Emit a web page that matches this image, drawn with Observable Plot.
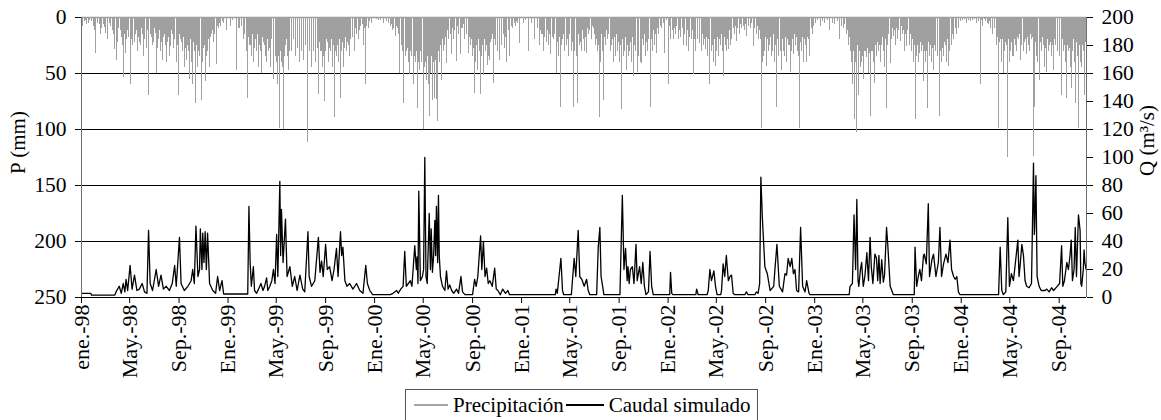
<!DOCTYPE html>
<html><head><meta charset="utf-8">
<script src="https://cdn.jsdelivr.net/npm/d3@7"></script>
<script src="https://cdn.jsdelivr.net/npm/@observablehq/plot@0.6"></script>
<style>
body{margin:0;background:#fff;font-family:"Liberation Serif","Times New Roman",serif;}
#wrap{position:relative;width:1161px;height:420px;overflow:hidden;}
#legend{position:absolute;left:405px;top:389px;height:32px;border:1px solid #555;display:flex;align-items:center;font-size:21px;padding:0 6px 0 8px;box-sizing:border-box;white-space:nowrap;color:#000}
.sw{display:inline-block;width:34px;height:0;border-top:2px solid;margin-right:5px}
</style></head><body>
<div id="wrap"><div id="chart"></div>
<div id="legend"><span class="sw" style="border-color:#a5a5a5"></span><span>Precipitación</span><span class="sw" style="border-color:#000;margin-left:2px;width:38px"></span><span>Caudal simulado</span></div>
</div>
<script>
// ---- data: [day of year, value] ----
const precip1998 = [[4,8],[8,4],[10,3],[14,6],[18,5],[21,3],[25,4],[30,8],[34,12],[37,32],[41,5],[45,6],[48,15],[52,10],[56,6],[59,9],[62,14],[66,20],[70,5],[74,8],[78,12],[81,15],[83,29],[87,38],[90,22],[93,10],[97,12],[100,18],[103,25],[105,54],[108,15],[110,32],[113,20],[115,12],[119,18],[122,60],[124,10],[126,20],[129,25],[132,22],[135,15],[138,12],[140,30],[143,18],[145,22],[148,25],[150,10],[153,15],[155,35],[158,20],[162,28],[165,12],[168,70],[172,15],[175,18],[178,25],[181,22],[183,10],[185,14],[187,50],[190,28],[192,20],[195,12],[197,30],[200,22],[203,38],[206,18],[208,15],[210,25],[212,40],[214,10],[216,22],[218,18],[220,35],[223,26],[225,12],[228,15],[230,28],[233,20],[237,40],[240,25],[242,70],[245,15],[247,20],[250,22],[252,30],[255,18],[257,45],[260,28],[262,38],[264,15],[266,25],[268,30],[270,55],[272,20],[274,40],[276,35],[278,60],[280,22],[282,30],[284,40],[286,77],[288,25],[290,45],[292,30],[294,35],[296,20],[299,74],[301,35],[303,40],[305,28],[307,25],[309,20],[310,57],[312,35],[314,30],[316,25],[318,20],[320,45],[322,18],[325,15],[328,12],[330,22],[333,15],[336,42],[339,8],[342,10],[345,5],[348,8],[352,4],[355,5],[362,12]];
const precip1999 = [[6,8],[12,3],[22,47],[26,10],[30,10],[35,8],[40,20],[43,15],[46,30],[48,20],[50,72],[52,18],[55,25],[57,25],[60,35],[62,15],[64,40],[66,28],[68,18],[70,20],[72,30],[74,15],[76,45],[78,22],[80,25],[82,30],[85,50],[87,18],[90,22],[92,25],[95,35],[97,40],[99,20],[102,30],[104,28],[106,45],[108,15],[110,20],[113,55],[115,30],[118,35],[120,22],[122,40],[125,60],[127,35],[128,99],[130,25],[132,30],[134,40],[136,45],[138,28],[140,100],[142,35],[144,25],[146,20],[148,35],[150,25],[151,47],[153,30],[155,20],[158,22],[160,30],[163,20],[165,15],[168,25],[170,35],[173,18],[175,28],[178,22],[180,40],[183,30],[185,20],[188,15],[190,38],[193,20],[195,25],[198,28],[200,112],[203,22],[205,30],[208,25],[210,45],[213,30],[215,25],[218,20],[220,40],[223,28],[226,69],[228,22],[230,30],[233,30],[235,45],[238,35],[240,25],[242,75],[244,30],[246,20],[248,22],[250,40],[253,28],[255,30],[258,20],[260,45],[262,35],[263,25],[265,22],[267,89],[269,30],[271,35],[273,25],[275,40],[278,20],[280,72],[282,30],[284,30],[286,22],[288,45],[290,28],[292,20],[294,18],[296,30],[298,22],[300,25],[302,15],[304,35],[307,20],[310,15],[312,18],[315,30],[318,10],[320,12],[322,15],[325,20],[328,12],[332,8],[335,6],[338,25],[341,10],[344,60],[347,8],[350,10],[354,4],[358,5]];
const precip2000 = [[5,2],[10,3],[15,3],[23,5],[30,4],[35,5],[40,8],[43,6],[46,12],[49,10],[52,17],[55,8],[58,10],[61,15],[64,50],[67,25],[69,20],[71,30],[74,77],[77,35],[80,30],[83,28],[85,40],[87,51],[90,30],[92,35],[94,25],[97,60],[100,35],[102,40],[105,30],[108,81],[110,40],[112,47],[114,35],[116,30],[118,30],[119,40],[122,100],[124,38],[126,45],[128,40],[130,56],[132,35],[134,60],[135,30],[137,88],[139,42],[141,50],[143,35],[145,74],[147,40],[150,72],[152,38],[154,73],[156,35],[158,93],[160,30],[162,40],[165,25],[168,56],[170,20],[172,30],[174,15],[176,25],[178,18],[180,41],[183,12],[186,20],[189,15],[193,33],[195,10],[198,20],[201,12],[205,39],[208,8],[210,15],[214,33],[217,10],[220,10],[223,6],[226,20],[230,15],[234,32],[237,18],[240,25],[242,20],[245,35],[247,28],[249,68],[251,22],[253,40],[255,25],[257,47],[259,20],[261,30],[263,30],[265,69],[268,35],[270,25],[272,52],[274,20],[276,30],[279,25],[282,43],[285,35],[288,38],[290,22],[292,20],[295,15],[298,59],[300,20],[303,25],[306,15],[308,30],[311,18],[313,38],[316,20],[318,25],[321,15],[324,28],[327,18],[330,40],[334,12],[338,35],[341,8],[345,10],[349,5],[352,8],[355,4],[358,5],[361,6],[363,23]];
const precip2001 = [[5,5],[10,3],[19,30],[25,5],[34,20],[40,10],[45,25],[48,12],[50,15],[53,15],[55,30],[58,18],[62,22],[65,12],[68,25],[71,15],[74,33],[77,18],[80,20],[84,15],[87,50],[90,22],[92,35],[95,18],[97,80],[100,25],[102,20],[105,15],[108,30],[112,25],[115,20],[118,35],[121,15],[125,30],[128,22],[130,80],[132,18],[134,30],[137,35],[139,20],[141,77],[143,15],[145,25],[148,22],[151,30],[153,12],[155,20],[158,30],[160,18],[163,32],[165,10],[168,15],[171,12],[175,20],[177,8],[180,10],[183,15],[186,25],[188,20],[190,30],[192,25],[194,89],[196,22],[198,40],[200,15],[202,30],[205,74],[207,18],[210,25],[212,12],[215,20],[218,15],[222,30],[224,12],[226,25],[228,20],[230,40],[233,18],[235,35],[237,15],[240,30],[243,22],[245,40],[248,25],[251,82],[253,20],[255,35],[256,28],[258,30],[260,18],[263,47],[265,25],[267,35],[269,20],[271,30],[273,22],[275,40],[277,18],[279,53],[282,25],[284,30],[286,20],[289,49],[291,25],[293,35],[296,40],[298,28],[300,41],[303,20],[305,25],[308,15],[310,35],[312,22],[314,30],[316,18],[318,20],[321,15],[323,80],[325,20],[327,30],[329,12],[331,25],[334,15],[337,32],[340,10],[342,15],[346,8],[350,10],[354,5],[358,32],[362,3]];
const precip2002 = [[1,10],[3,60],[5,8],[8,20],[11,12],[14,20],[17,10],[20,15],[23,8],[26,20],[29,12],[33,18],[36,10],[40,25],[43,15],[47,26],[50,12],[52,30],[55,18],[58,20],[61,12],[65,51],[67,20],[70,30],[73,15],[75,20],[78,12],[80,23],[83,18],[85,30],[87,15],[89,25],[91,20],[93,29],[96,18],[98,35],[101,20],[103,22],[105,60],[108,18],[110,30],[112,25],[114,40],[116,20],[118,44],[120,22],[122,30],[125,18],[127,35],[130,20],[132,25],[134,15],[136,30],[139,53],[141,18],[143,25],[145,15],[147,30],[149,20],[151,29],[154,12],[156,25],[158,15],[160,20],[163,10],[166,15],[169,8],[172,21],[175,10],[178,15],[181,6],[185,10],[188,8],[190,12],[194,6],[197,17],[201,8],[205,10],[209,5],[213,26],[216,10],[220,15],[223,8],[225,20],[228,12],[231,20],[233,99],[236,40],[239,35],[240,22],[242,30],[244,18],[246,44],[248,20],[250,30],[252,15],[254,25],[256,18],[258,35],[260,20],[262,30],[264,15],[266,40],[268,25],[270,80],[273,20],[275,35],[277,22],[280,30],[282,18],[284,47],[286,20],[288,30],[290,22],[292,35],[294,18],[296,40],[298,20],[300,25],[303,25],[305,49],[307,18],[309,30],[311,20],[313,33],[316,15],[318,25],[320,18],[322,30],[324,20],[326,35],[329,99],[331,22],[333,30],[336,18],[338,40],[340,20],[342,25],[344,15],[346,40],[348,18],[350,20],[352,12],[354,35],[357,10],[360,15],[363,8]];
const precip2003 = [[2,5],[8,3],[15,8],[20,4],[25,5],[32,3],[39,12],[45,5],[50,6],[57,4],[64,20],[68,8],[72,10],[76,6],[80,15],[83,12],[85,25],[87,18],[89,30],[91,22],[93,40],[95,25],[96,60],[98,30],[99,91],[101,28],[102,40],[104,35],[106,103],[108,25],[109,30],[111,70],[113,30],[115,45],[117,28],[118,40],[120,35],[122,55],[124,25],[126,30],[128,30],[131,36],[133,28],[135,50],[137,32],[139,88],[141,25],[143,30],[145,30],[147,40],[149,28],[151,59],[153,25],[155,35],[158,22],[160,30],[162,25],[164,40],[166,20],[168,25],[170,18],[172,30],[174,22],[176,45],[178,20],[179,81],[181,18],[183,25],[186,15],[189,41],[191,12],[193,20],[195,10],[197,17],[200,12],[203,25],[206,10],[208,20],[211,12],[214,21],[217,8],[220,15],[222,12],[225,30],[228,15],[230,26],[233,12],[236,25],[239,15],[242,30],[245,20],[247,40],[249,25],[251,91],[253,28],[255,35],[257,25],[259,40],[261,20],[263,32],[265,22],[267,30],[270,25],[272,57],[274,30],[276,40],[278,25],[280,30],[282,28],[283,81],[285,22],[287,35],[289,25],[292,40],[294,28],[297,47],[299,25],[301,30],[303,22],[306,35],[308,25],[311,88],[313,20],[315,30],[317,25],[318,40],[320,28],[322,35],[324,22],[326,25],[328,25],[330,40],[332,20],[334,44],[336,22],[338,30],[341,18],[343,25],[345,15],[348,20],[351,10],[355,15],[358,6],[360,10],[363,4]];
const precip2004 = [[5,3],[10,2],[15,5],[20,3],[25,4],[30,3],[35,2],[40,5],[45,4],[48,60],[52,3],[55,8],[58,2],[62,4],[66,5],[70,6],[72,4],[75,10],[78,8],[80,15],[83,10],[85,8],[88,15],[90,25],[92,18],[95,99],[97,22],[99,20],[101,25],[102,40],[104,20],[106,50],[108,28],[110,30],[112,22],[114,25],[116,25],[117,125],[119,20],[120,40],[122,25],[124,30],[126,22],[128,35],[130,28],[131,35],[133,20],[135,25],[137,22],[139,30],[141,18],[143,20],[145,15],[148,38],[150,20],[152,25],[155,18],[157,30],[159,22],[160,20],[162,15],[164,33],[166,18],[168,25],[170,20],[172,30],[174,15],[176,20],[178,18],[181,124],[183,25],[184,80],[186,22],[188,35],[190,20],[192,40],[195,25],[197,56],[199,22],[201,30],[203,18],[205,25],[207,25],[209,45],[211,28],[214,49],[216,20],[218,30],[220,18],[222,25],[224,22],[226,35],[228,25],[231,47],[233,20],[235,25],[237,18],[240,30],[242,22],[245,35],[247,25],[251,70],[253,20],[255,30],[257,25],[260,40],[262,22],[264,72],[266,25],[268,30],[270,28],[272,45],[274,22],[275,63],[277,25],[279,30],[281,20],[283,40],[285,25],[286,77],[288,22],[290,35],[292,28],[293,99],[295,25],[297,40],[299,30],[301,45],[303,25],[305,30],[307,28],[309,70],[310,22],[312,20]];

const flow1998 = [[1,3],[24,3],[26,1.7],[84,1.7],[87,4],[95,8],[100,3],[105,10],[109,4],[112,13],[116,5],[122,23],[127,6],[133,16],[139,5],[145,6],[152,10],[158,4],[164,3],[168,48],[172,10],[178,5],[187,20],[193,8],[199,16],[205,6],[212,8],[220,5],[227,10],[233,23],[237,8],[245,43],[249,10],[257,5],[266,8],[274,12],[278,20],[282,10],[286,51],[291,15],[295,20],[297,49],[301,20],[303,46],[306,25],[309,47],[312,20],[315,46],[320,10],[328,5],[335,3],[340,15],[345,5],[351,12],[355,2.5],[365,2.5]];
const flow1999 = [[1,2.5],[50,2.5],[53,65],[56,25],[59,8],[64,22],[67,5],[72,3],[77,6],[83,10],[88,5],[92,8],[97,14],[100,5],[105,8],[110,12],[114,20],[118,10],[122,45],[125,15],[130,83],[132,30],[134,63],[138,25],[144,56],[148,15],[155,22],[161,8],[167,15],[173,5],[180,16],[187,6],[192,4],[200,47],[203,15],[209,8],[217,12],[226,43],[230,18],[234,26],[238,15],[244,38],[248,20],[254,22],[260,12],[265,20],[271,35],[275,15],[281,47],[284,30],[287,36],[292,12],[297,8],[304,10],[312,6],[321,10],[329,5],[337,3],[344,23],[348,10],[354,5],[361,2.1],[365,2.1]];
const flow2000 = [[1,2.1],[40,2.1],[47,3],[56,5],[60,3],[66,6],[72,8],[76,33],[80,8],[85,10],[90,12],[94,8],[101,37],[105,20],[107,29],[109,10],[111,76],[115,12],[120,15],[123,20],[126,100],[129,15],[132,10],[137,60],[140,20],[142,49],[145,18],[148,30],[151,55],[153,30],[155,65],[158,25],[160,73],[162,30],[165,15],[170,8],[176,5],[180,19],[184,6],[188,9],[193,5],[198,3],[205,6],[210,3],[216,15],[220,4],[226,2],[245,2],[250,13],[254,8],[258,15],[265,44],[268,20],[272,40],[276,15],[280,21],[284,10],[288,12],[294,8],[300,21],[304,6],[308,5],[314,2],[320,6],[327,3],[333,5],[337,2],[366,2]];
const flow2001 = [[1,2],[85,2],[87,6],[90,3],[99,28],[103,5],[106,2],[125,2],[132,28],[136,15],[142,48],[146,15],[151,13],[157,8],[163,13],[167,5],[171,2],[188,2],[192,36],[196,50],[199,15],[203,8],[206,2],[246,2],[252,73],[256,20],[260,35],[264,12],[266,22],[269,10],[272,20],[277,22],[281,10],[286,38],[289,12],[295,22],[299,10],[303,25],[307,8],[311,2],[317,4],[321,33],[325,8],[329,2],[365,2]];
const flow2002 = [[1,2],[5,2],[7,18],[10,3],[13,2],[70,2],[72,6],[76,2],[98,2],[101,5],[105,20],[109,12],[115,19],[119,8],[123,2],[132,2],[134,5],[138,24],[142,15],[146,30],[151,12],[155,15],[159,16],[163,3],[167,2],[192,2],[196,4],[200,2],[217,2],[221,4],[225,3],[229,10],[232,86],[236,55],[242,22],[248,17],[255,5],[264,8],[267,20],[272,38],[278,8],[286,4],[292,17],[296,16],[300,28],[305,22],[309,28],[313,17],[317,20],[321,5],[326,4],[331,50],[336,8],[342,4],[346,12],[352,3],[354,2],[365,2]];
const flow2003 = [[1,2],[87,2],[89,8],[95,10],[99,59],[103,20],[106,70],[109,12],[111,8],[115,20],[118,25],[122,8],[126,15],[131,32],[135,12],[139,43],[142,22],[146,10],[151,31],[155,28],[158,12],[161,30],[164,10],[168,27],[172,11],[175,16],[180,50],[183,38],[189,8],[197,2],[249,2],[251,36],[255,8],[259,15],[263,20],[267,12],[272,30],[274,31],[279,24],[284,67],[287,15],[293,27],[297,31],[303,15],[309,25],[313,50],[317,15],[322,24],[328,31],[333,25],[338,41],[342,20],[347,15],[351,13],[355,15],[359,4],[363,2],[365,2]];
const flow2004 = [[1,2],[94,2],[98,36],[102,5],[106,2],[112,4],[117,57],[121,8],[126,17],[131,12],[136,25],[142,41],[145,15],[148,24],[152,38],[156,30],[160,12],[164,8],[170,7],[176,10],[181,96],[183,45],[184,50],[187,87],[190,15],[195,8],[200,5],[210,5],[214,6],[220,4],[226,7],[231,5],[240,8],[246,10],[251,37],[254,8],[258,12],[264,25],[268,20],[272,30],[275,41],[278,12],[282,20],[285,50],[288,15],[293,59],[297,48],[299,10],[301,8],[305,20],[307,34],[309,25],[312,20]];

const xDomain = ["1998-01-01", "2004-11-08"];
const tickDates = ["1998-01-01","1998-05-01","1998-09-01","1999-01-01","1999-05-01","1999-09-01","2000-01-01","2000-05-01","2000-09-01","2001-01-01","2001-05-01","2001-09-01","2002-01-01","2002-05-01","2002-09-01","2003-01-01","2003-05-01","2003-09-01","2004-01-01","2004-05-01","2004-09-01"];
const tickLabels = ["ene.-98","May.-98","Sep.-98","Ene.-99","May.-99","Sep.-99","Ene.-00","May.-00","Sep.-00","Ene.-01","May.-01","Sep.-01","Ene.-02","May.-02","Sep.-02","Ene.-03","May.-03","Sep.-03","Ene.-04","May.-04","Sep.-04"];
const pTicks = [0, 50, 100, 150, 200, 250];
const pGrid = [50, 100, 150, 200];
const qTicks = [0, 20, 40, 60, 80, 100, 120, 140, 160, 180, 200];
const pMax = 250, qMax = 200;
const pTitle = "P (mm)", qTitle = "Q (m³/s)";

// ---- build tables ----
const toDate = (y, d) => new Date(Date.UTC(y, 0, d));
const pRows = [], qRows = [];
[[1998,precip1998],[1999,precip1999],[2000,precip2000],[2001,precip2001],[2002,precip2002],[2003,precip2003],[2004,precip2004]]
  .forEach(([y, arr]) => arr.forEach(([d, v]) => pRows.push({date: toDate(y, d), p: v})));
[[1998,flow1998],[1999,flow1999],[2000,flow2000],[2001,flow2001],[2002,flow2002],[2003,flow2003],[2004,flow2004]]
  .forEach(([y, arr]) => arr.forEach(([d, v]) => qRows.push({date: toDate(y, d), q: v})));
// secondary axis: Q mapped onto the (reversed) P scale
const qToP = q => pMax - q * pMax / qMax;
const pToQ = p => (pMax - p) * qMax / pMax;
qRows.forEach(r => r.yq = qToP(r.q));

const xd = xDomain.map(s => new Date(s));
const tds = tickDates.map(s => new Date(s));
const labelMap = new Map(tds.map((d, i) => [+d, tickLabels[i]]));

const chart = Plot.plot({
  width: 1161, height: 389,
  marginLeft: 81, marginRight: 75, marginTop: 17, marginBottom: 92,
  style: {fontFamily: '"Liberation Serif", "Times New Roman", serif', fontSize: "21px", background: "#fff", color: "#000"},
  x: {type: "utc", domain: xd},
  y: {domain: [0, pMax], reverse: true},
  marks: [
    Plot.ruleY(pGrid, {stroke: "#000", strokeWidth: 1}),
    Plot.ruleY([0], {stroke: "#9d9d9d", strokeWidth: 1.5}),
    Plot.ruleX(pRows, {x: "date", y1: 0, y2: "p", stroke: "#a0a0a0", strokeWidth: 1, shapeRendering: "crispEdges"}),
    Plot.lineY(qRows, {x: "date", y: "yq", stroke: "#000", strokeWidth: 1.3, curve: "linear"}),
    Plot.ruleY([pMax], {stroke: "#000", strokeWidth: 1}),
    Plot.ruleX(xd, {stroke: "#6e6e6e", strokeWidth: 1}),
    Plot.axisY({anchor: "left", ticks: pTicks, tickSize: 6, tickPadding: 9, fontSize: 21.5, label: null}),
    Plot.axisY({anchor: "right", ticks: qTicks.map(qToP), tickFormat: v => String(Math.round(pToQ(v))), tickSize: 6, tickPadding: 9, fontSize: 21.5, label: null}),
    Plot.axisX({ticks: tds, tickFormat: d => labelMap.get(+d), tickRotate: -90, tickSize: 6, tickPadding: 1, fontSize: 22, label: null}),
    Plot.text([pTitle], {frameAnchor: "left", dx: -63, dy: -15, rotate: -90, textAnchor: "middle", fontSize: 21}),
    Plot.text([qTitle], {frameAnchor: "right", dx: 61, dy: -17, rotate: -90, textAnchor: "middle", fontSize: 21})
  ]
});
document.getElementById("chart").appendChild(chart);
</script>
</body></html>
